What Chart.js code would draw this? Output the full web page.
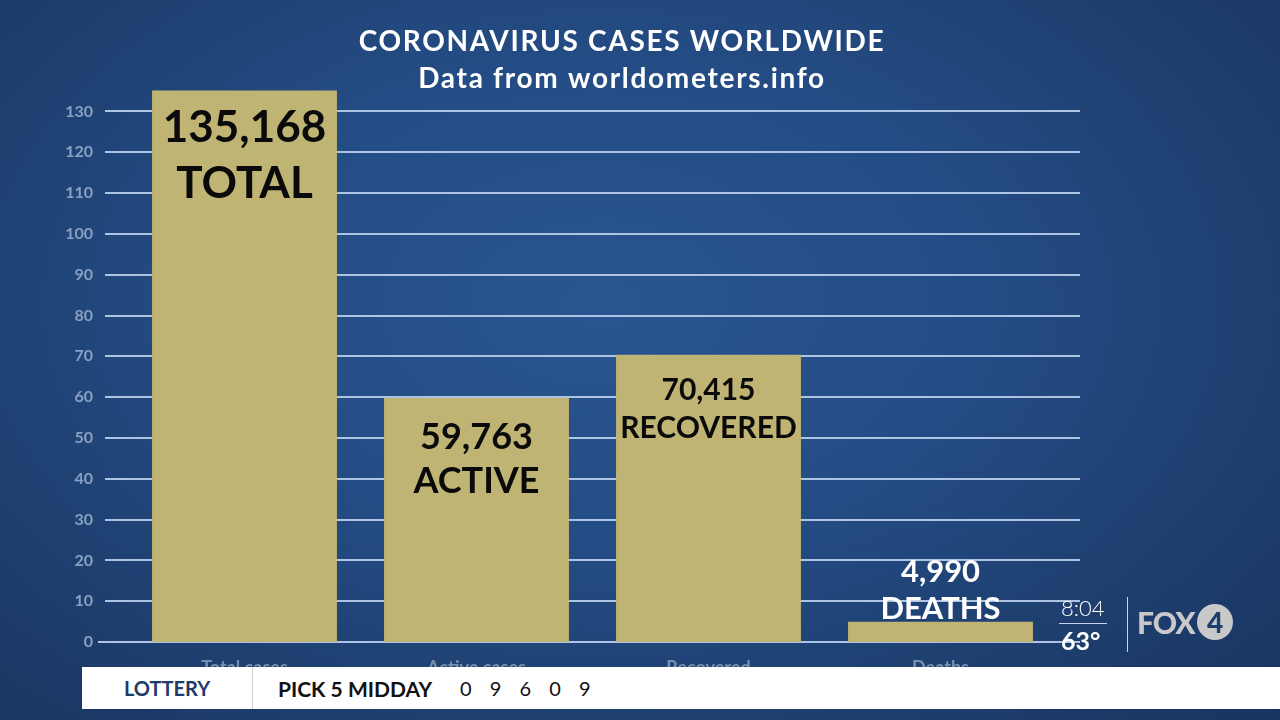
<!DOCTYPE html>
<html>
<head>
<meta charset="utf-8">
<script src="https://cdn.jsdelivr.net/npm/chart.js@4"></script>
<style>
    html, body { margin: 0; padding: 0; }
    body {
        width: 1280px; height: 720px; overflow: hidden; position: relative;
        font-family: Lato, "Open Sans", sans-serif;
        background: radial-gradient(ellipse 75% 85% at 47% 42%, #2a5590 0%, #244c84 40%, #1d3d6c 75%, #183360 100%);
    }
    #chart { position: absolute; left: 0; top: 0; }
    .lottery {
        position: absolute; left: 82px; top: 667px; width: 1198px; height: 42px;
        background: #fff; display: flex; align-items: center;
    }
    .lottery .tag {
        width: 170px; height: 100%; display: flex; align-items: center; justify-content: center;
        color: #1f3b6b; font-weight: bold; font-size: 20px; border-right: 1px solid #cfcfcf;
    }
    .lottery .game { margin-left: 25px; font-size: 21px; font-weight: bold; color: #111; }
    .lottery .nums { margin-left: 28px; font-size: 20px; color: #111; letter-spacing: 6.5px; }
    .bug { position: absolute; color: #fff; }
    .time { left: 1061px; top: 594px; font-size: 22px; font-weight: 300; }
    .temp { left: 1061px; top: 625px; font-size: 25px; font-weight: bold; }
    .hline { position: absolute; left: 1059px; top: 623px; width: 48px; height: 1px; background: #c9d6e8; }
    .vline { position: absolute; left: 1127px; top: 597px; width: 1px; height: 55px; background: #c9d6e8; }
    .fox { left: 1137px; top: 604px; font-size: 30px; font-weight: 900; color: #c9c9c9; letter-spacing: -1px; display: flex; align-items: center; }
    .fox .four {
        display: inline-flex; width: 36px; height: 36px; border-radius: 50%; background: #c9c9c9;
        color: #1d3f6e; font-size: 28px; align-items: center; justify-content: center; margin-left: 2px;
    }
</style>
</head>
<body>
<canvas id="chart" width="1280" height="720"></canvas>

<div class="bug time">8:04</div>
<div class="hline"></div>
<div class="bug temp">63°</div>
<div class="vline"></div>
<div class="bug fox">FOX<span class="four">4</span></div>

<div class="lottery">
    <div class="tag">LOTTERY</div>
    <div class="game">PICK 5 MIDDAY</div>
    <div class="nums">0 9 6 0 9</div>
</div>

<script>
// values in thousands of cases
const categories = ['Total cases', 'Active cases', 'Recovered', 'Deaths'];
const caseValues = [135.168, 59.763, 70.415, 4.990];
const valueLabels = ['135,168', '59,763', '70,415', '4,990'];
const wordLabels = ['TOTAL', 'ACTIVE', 'RECOVERED', 'DEATHS'];
const yTicks = [0, 10, 20, 30, 40, 50, 60, 70, 80, 90, 100, 110, 120, 130];
const titleLines = ['CORONAVIRUS CASES WORLDWIDE', 'Data from worldometers.info'];

// per-bar text style (size, colour, offset of each line from bar top)
const labelStyles = [
    { size: 44, color: '#0a0a0a', dy: [37, 93] },
    { size: 36, color: '#0a0a0a', dy: [39, 83] },
    { size: 30, color: '#0a0a0a', dy: [36, 74] },
    { size: 31, color: '#ffffff', dy: [-50, -13] }
];

// horizontal guide lines run wider than the bar bands
const gridLines = {
    id: 'gridLines',
    beforeDatasetsDraw(chart) {
        const ctx = chart.ctx;
        const y = chart.scales.y;
        ctx.save();
        ctx.strokeStyle = '#adc4e4';
        ctx.lineWidth = 2;
        yTicks.forEach(v => {
            const py = Math.round(y.getPixelForValue(v));
            ctx.beginPath();
            ctx.moveTo(v === 0 ? 98 : 105, py);
            ctx.lineTo(1080, py);
            ctx.stroke();
        });
        ctx.restore();
    }
};

const barText = {
    id: 'barText',
    afterDatasetsDraw(chart) {
        const ctx = chart.ctx;
        const meta = chart.getDatasetMeta(0);
        ctx.save();
        ctx.textAlign = 'center';
        ctx.textBaseline = 'middle';
        meta.data.forEach((bar, i) => {
            const s = labelStyles[i];
            ctx.font = `bold ${s.size}px Lato, sans-serif`;
            ctx.fillStyle = s.color;
            ctx.fillText(valueLabels[i], bar.x, bar.y + s.dy[0]);
            ctx.fillText(wordLabels[i], bar.x, bar.y + s.dy[1]);
        });
        ctx.restore();
    }
};

const headline = {
    id: 'headline',
    afterDraw(chart) {
        const ctx = chart.ctx;
        ctx.save();
        ctx.textAlign = 'center';
        ctx.textBaseline = 'middle';
        ctx.fillStyle = '#ffffff';
        ctx.font = 'bold 28px Lato, sans-serif';
        ctx.letterSpacing = '1.7px';
        ctx.fillText(titleLines[0], 622, 42);
        ctx.fillText(titleLines[1], 622, 79);
        ctx.restore();
    }
};

new Chart(document.getElementById('chart'), {
    type: 'bar',
    data: {
        labels: categories,
        datasets: [{
            data: caseValues,
            backgroundColor: '#bfb473',
            borderWidth: 0,
            barPercentage: 0.797,
            categoryPercentage: 1
        }]
    },
    options: {
        responsive: false,
        animation: false,
        layout: { padding: { top: 87, right: 223.5, bottom: 48, left: 0 } },
        plugins: {
            legend: { display: false },
            tooltip: { enabled: false }
        },
        scales: {
            x: {
                afterFit: s => { s.height = 30; },
                grid: { display: false },
                border: { display: false },
                ticks: {
                    color: '#7a8fae',
                    font: { family: 'Lato', size: 18, weight: 'bold' },
                    padding: 7,
                    maxRotation: 0
                }
            },
            y: {
                min: 0,
                max: 136,
                afterBuildTicks: s => { s.ticks = yTicks.map(v => ({ value: v })); },
                afterFit: s => { s.width = 128.5; },
                grid: { display: false, drawTicks: false },
                border: { display: false },
                ticks: {
                    color: '#8aa1c2',
                    font: { family: 'Lato', size: 16, weight: 'bold' },
                    padding: 35.5
                }
            }
        }
    },
    plugins: [gridLines, barText, headline]
});
</script>
</body>
</html>
